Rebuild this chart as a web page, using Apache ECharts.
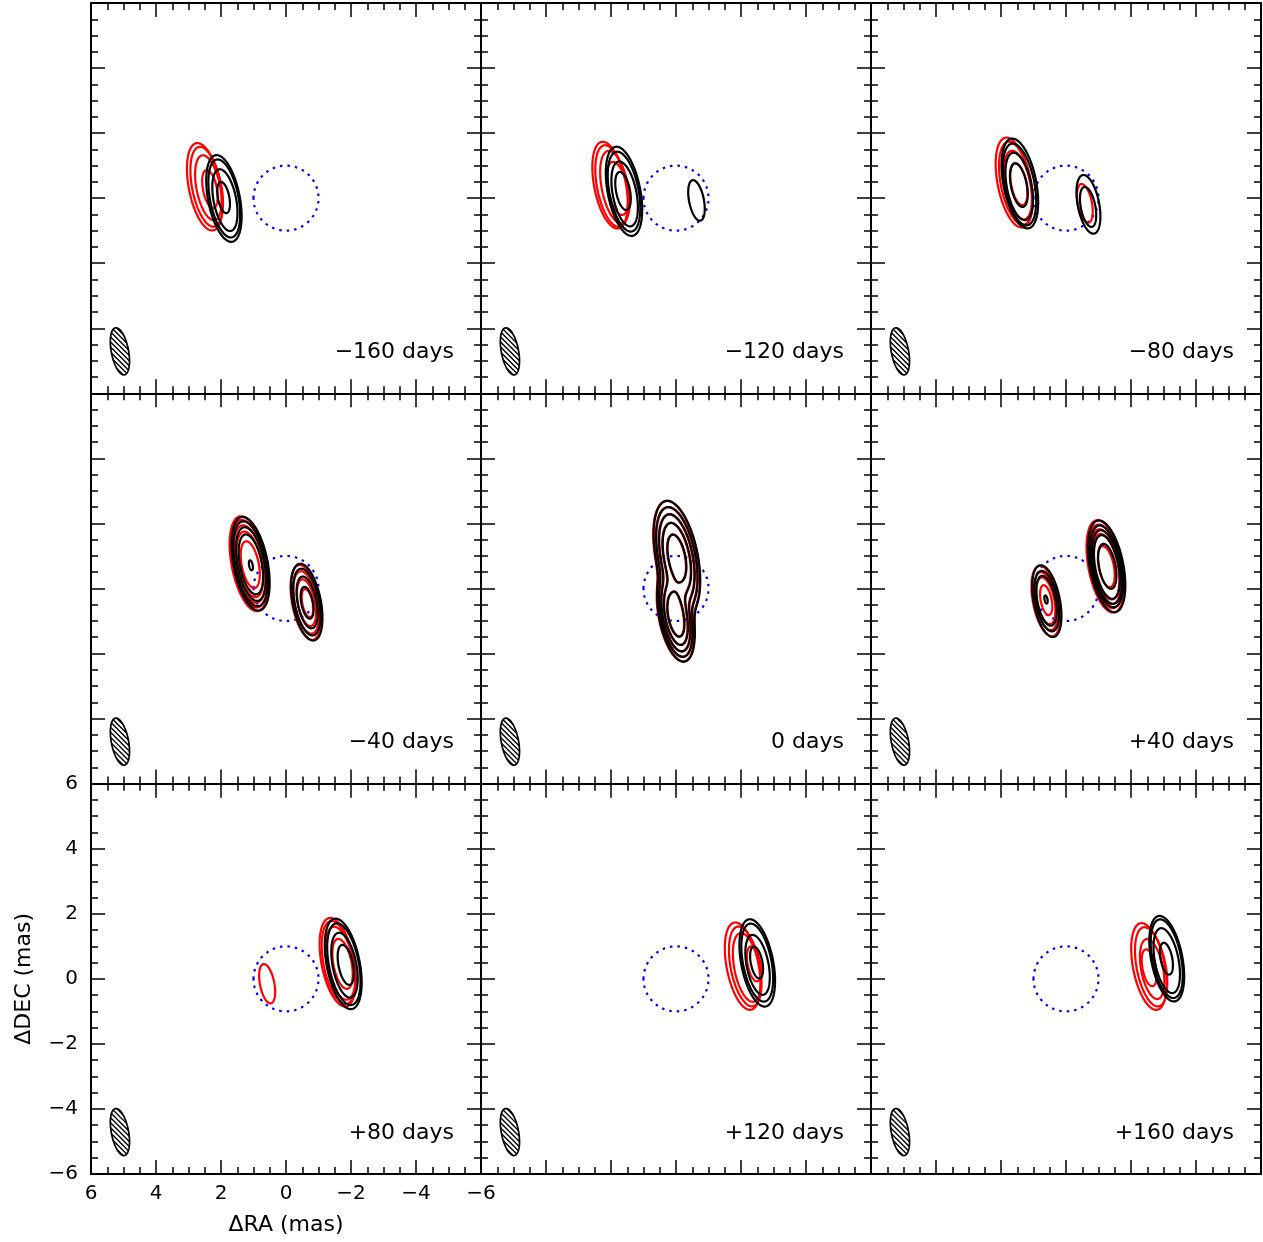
<!DOCTYPE html>
<html><head><meta charset="utf-8">
<script src="https://cdn.jsdelivr.net/npm/echarts@6/dist/echarts.min.js"></script>
<style>html,body{margin:0;padding:0;background:#fff}#c{width:1263px;height:1242px}</style>
</head><body><div id="c"></div>
<script>
// ---------------- data ----------------
const panelLabels = ['\u2212160 days','\u2212120 days','\u221280 days','\u221240 days','0 days','+40 days','+80 days','+120 days','+160 days'];
const axisTicks = [-6, -4, -2, 0, 2, 4, 6];
// contour rows: [ΔRA (mas), ΔDEC (mas), semi-major axis (mas)]
const red_m160 = [[2.50,0.35,1.40],[2.44,0.35,1.28],[2.39,0.32,1.04],[2.34,0.28,0.61]];
const black_m160 = [[1.91,-0.01,1.39],[1.90,-0.01,1.25],[1.88,-0.06,0.99],[1.92,0.02,0.50]];
const red_m120 = [[2.03,0.40,1.39],[1.97,0.37,1.31],[1.88,0.34,1.16],[1.80,0.30,0.85]];
const black_m120 = [[1.60,0.21,1.43],[1.60,0.20,1.28],[1.58,0.13,1.04],[1.63,0.22,0.61],[-0.63,-0.07,0.65]];
const red_m80 = [[1.60,0.48,1.44],[1.54,0.46,1.33],[1.48,0.40,1.10],[1.45,0.43,0.67],[-0.58,-0.16,0.62]];
const black_m80 = [[1.42,0.45,1.44],[1.43,0.42,1.31],[1.44,0.36,1.08],[1.45,0.40,0.70],[-0.69,-0.19,0.94],[-0.68,-0.27,0.64]];
const red_m40 = [[1.14,0.76,1.52],[1.13,0.76,1.40],[1.12,0.75,1.24],[1.11,0.74,1.05],[1.10,0.73,0.75],[-0.61,-0.43,1.20],[-0.62,-0.43,1.00],[-0.63,-0.44,0.75],[-0.66,-0.45,0.45]];
const black_m40 = [[1.09,0.76,1.50],[1.09,0.76,1.36],[1.08,0.75,1.18],[1.08,0.74,0.96],[1.08,0.71,0.16],[-0.64,-0.42,1.23],[-0.64,-0.42,1.07],[-0.65,-0.43,0.83],[-0.65,-0.44,0.51]];
const red_p40 = [[0.62,-0.39,1.13],[0.62,-0.39,0.93],[0.62,-0.38,0.75],[0.61,-0.36,0.48],[-1.21,0.68,1.48],[-1.22,0.68,1.34],[-1.22,0.67,1.20],[-1.23,0.67,1.05],[-1.24,0.67,0.66]];
const black_p40 = [[0.59,-0.39,1.15],[0.59,-0.39,0.97],[0.60,-0.38,0.80],[0.615,-0.34,0.13],[-1.25,0.68,1.47],[-1.25,0.68,1.31],[-1.26,0.66,1.18],[-1.26,0.66,1.02],[-1.27,0.68,0.72]];
const red_p80 = [[0.58,-0.15,0.63],[-1.59,0.51,1.42],[-1.62,0.50,1.33],[-1.67,0.48,1.17],[-1.74,0.46,0.80]];
const black_p80 = [[-1.76,0.46,1.45],[-1.78,0.45,1.31],[-1.80,0.42,1.04],[-1.84,0.43,0.64]];
const red_p120 = [[-2.05,0.39,1.40],[-2.13,0.38,1.28],[-2.18,0.35,1.10],[-2.40,0.46,0.56]];
const black_p120 = [[-2.50,0.49,1.40],[-2.50,0.50,1.25],[-2.51,0.43,0.96],[-2.48,0.50,0.51]];
const red_p160 = [[-2.55,0.38,1.39],[-2.62,0.37,1.27],[-2.65,0.30,0.96],[-2.56,0.34,0.59]];
const black_p160 = [[-3.10,0.62,1.37],[-3.10,0.62,1.26],[-3.10,0.56,1.04],[-3.09,0.62,0.51]];
// 0 days: blended images, rows [ΔRA, ΔDEC, peak, size scale]
const black_0_images = [[-0.03,0.95,27.6,1.25],[0.00,-0.85,32.4,0.98]];
const red_0_images = [[-0.015,0.95,27.6,1.25],[0.015,-0.85,32.4,0.98]];
const levels_0 = [1,2,4,8,16];
const beamSigma = [0.55, 0.20];        // mas, major/minor
const beamPA = 11;                     // deg, east of north
const contourAxisRatio = 0.36;         // minor/major of contour ellipses
const contourScale = 0.975;
const beam = [[5.11,-4.71,0.735,0.265]]; // [ΔRA, ΔDEC, semi-major, semi-minor]
const ringRadius = 1;                  // mas
const labelPos = [[-5.17,-4.74]];

const redSets = [red_m160, red_m120, red_m80, red_m40, null, red_p40, red_p80, red_p120, red_p160];
const blackSets = [black_m160, black_m120, black_m80, black_m40, null, black_p40, black_p80, black_p120, black_p160];

// ---------------- helpers ----------------
const TH = beamPA * Math.PI / 180;
const E1 = [Math.sin(TH), Math.cos(TH)];   // major axis (data coords, x = RA)
const E2 = [Math.cos(TH), -Math.sin(TH)];
function fmt(v){ return v < 0 ? '\u2212' + (-v) : '' + v; }

function ellipseRender(color){
  return function(params, api){
    const cx = api.value(0), cy = api.value(1), a = api.value(2) * contourScale, b = a * contourAxisRatio;
    const pts = [];
    for (let k = 0; k < 120; k++){
      const t = k / 120 * 2 * Math.PI, ca = a * Math.cos(t), sb = b * Math.sin(t);
      pts.push(api.coord([cx + ca * E1[0] + sb * E2[0], cy + ca * E1[1] + sb * E2[1]]));
    }
    return {type:'polygon', shape:{points:pts}, style:{fill:'none', stroke:color, lineWidth:2.2, lineJoin:'round'}};
  };
}
function ringRender(params, api){
  const pts = [];
  for (let k = 0; k <= 180; k++){
    const t = k / 180 * 2 * Math.PI;
    pts.push(api.coord([api.value(0) + ringRadius * Math.cos(t), api.value(1) + ringRadius * Math.sin(t)]));
  }
  return {type:'polyline', shape:{points:pts}, style:{fill:'none', stroke:'#0000ff', lineWidth:2.2, lineDash:[2.5,5]}};
}
function beamRender(params, api){
  const cx = api.value(0), cy = api.value(1), a = api.value(2), b = api.value(3);
  const children = [];
  const pts = [];
  for (let k = 0; k < 120; k++){
    const t = k / 120 * 2 * Math.PI, ca = a * Math.cos(t), sb = b * Math.sin(t);
    pts.push(api.coord([cx + ca * E1[0] + sb * E2[0], cy + ca * E1[1] + sb * E2[1]]));
  }
  children.push({type:'polygon', shape:{points:pts}, style:{fill:'#fff', stroke:'#000', lineWidth:1.7}});
  const n = [Math.SQRT1_2, -Math.SQRT1_2], u = [Math.SQRT1_2, Math.SQRT1_2];
  const a1 = n[0]*E1[0]+n[1]*E1[1], b1 = u[0]*E1[0]+u[1]*E1[1];
  const a2 = n[0]*E2[0]+n[1]*E2[1], b2 = u[0]*E2[0]+u[1]*E2[1];
  const A = b1*b1/(a*a) + b2*b2/(b*b);
  const h = 0.11;
  for (let d = -0.66; d <= 0.66; d += h){
    const B = 2*d*(a1*b1/(a*a) + a2*b2/(b*b));
    const C = d*d*(a1*a1/(a*a) + a2*a2/(b*b)) - 1;
    const disc = B*B - 4*A*C;
    if (disc <= 0) continue;
    const s1 = (-B - Math.sqrt(disc)) / (2*A), s2 = (-B + Math.sqrt(disc)) / (2*A);
    const p1 = api.coord([cx + d*n[0] + s1*u[0], cy + d*n[1] + s1*u[1]]);
    const p2 = api.coord([cx + d*n[0] + s2*u[0], cy + d*n[1] + s2*u[1]]);
    children.push({type:'line', shape:{x1:p1[0], y1:p1[1], x2:p2[0], y2:p2[1]}, style:{stroke:'#000', lineWidth:1.4}});
  }
  return {type:'group', children};
}
function labelRender(text){
  return function(params, api){
    const p = api.coord([api.value(0), api.value(1)]);
    return {type:'text', x:p[0], y:p[1], style:{text:text, fill:'#000', font:'22px "DejaVu Sans"', align:'right', verticalAlign:'middle', textAlign:'right', textVerticalAlign:'middle'}};
  };
}
function fieldFn(images){
  return function(x, y){
    let f = 0;
    for (const im of images){
      const dx = x - im[0], dy = y - im[1];
      const uu = (dx*E1[0] + dy*E1[1]) / (beamSigma[0]*im[3]);
      const vv = (dx*E2[0] + dy*E2[1]) / (beamSigma[1]*im[3]);
      f += im[2] * Math.exp(-0.5*(uu*uu + vv*vv));
    }
    return f;
  };
}
function contourRender(images, color){
  const f = fieldFn(images);
  const x0 = -2.4, y0 = -3.6, h = 0.015, nx = 320, ny = 480;
  const grid = new Float64Array((nx+1)*(ny+1));
  for (let j = 0; j <= ny; j++) for (let i = 0; i <= nx; i++) grid[j*(nx+1)+i] = f(x0+i*h, y0+j*h);
  return function(params, api){
    const L = levels_0[api.value(2)];
    let path = '';
    const P = (q) => { const c = api.coord(q); return c[0].toFixed(2) + ' ' + c[1].toFixed(2); };
    for (let j = 0; j < ny; j++){
      for (let i = 0; i < nx; i++){
        const x = x0 + i*h, y = y0 + j*h;
        const c = [[x, y, grid[j*(nx+1)+i]], [x+h, y, grid[j*(nx+1)+i+1]], [x+h, y+h, grid[(j+1)*(nx+1)+i+1]], [x, y+h, grid[(j+1)*(nx+1)+i]]];
        const pts = [];
        for (let e = 0; e < 4; e++){
          const p = c[e], q = c[(e+1)%4];
          if ((p[2] > L) !== (q[2] > L)){
            const t = (L - p[2]) / (q[2] - p[2]);
            pts.push([p[0] + t*(q[0]-p[0]), p[1] + t*(q[1]-p[1])]);
          }
        }
        if (pts.length === 2) path += 'M' + P(pts[0]) + 'L' + P(pts[1]);
        else if (pts.length === 4){
          const cv = (c[0][2]+c[1][2]+c[2][2]+c[3][2]) / 4;
          if ((cv > L) === (c[0][2] > L)) { path += 'M' + P(pts[0]) + 'L' + P(pts[1]) + 'M' + P(pts[2]) + 'L' + P(pts[3]); }
          else { path += 'M' + P(pts[3]) + 'L' + P(pts[0]) + 'M' + P(pts[1]) + 'L' + P(pts[2]); }
        }
      }
    }
    return {type:'path', shape:{pathData: path}, style:{fill:'none', stroke:color, lineWidth:2.2, lineCap:'round', lineJoin:'round'}};
  };
}

// ---------------- layout ----------------
const colLeft = [91, 481, 871];
const rowTop = [3, 393.3, 783.7];
const W = 390, H = 390.3;
const grids = [], xAxes = [], yAxes = [], series = [];
const font = '"DejaVu Sans"';

for (let i = 0; i < 9; i++){
  const r = Math.floor(i/3), c = i % 3;
  grids.push({left: colLeft[c], top: rowTop[r], width: W, height: H, outerBoundsMode: 'none'});
  const showLab = (i === 6);
  const baseTick = {show:true, inside:true, length:14, lineStyle:{color:'#000', width:1.5}};
  const baseMinor = {show:true, splitNumber:4, length:7, lineStyle:{color:'#000', width:1.5}};
  const baseLine = {show:true, onZero:false, lineStyle:{color:'#000', width:2}};
  ['bottom','top'].forEach(pos => {
    const lab = showLab && pos === 'bottom';
    xAxes.push({gridIndex:i, type:'value', min:-6, max:6, interval:2, inverse:true, position:pos,
      axisLine:baseLine, axisTick:baseTick, minorTick:baseMinor, splitLine:{show:false}, minorSplitLine:{show:false},
      axisLabel:{show:lab, margin:10, color:'#000', fontFamily:font, fontSize:20, formatter:fmt, showMinLabel:true, showMaxLabel:true},
      name: lab ? '\u0394RA (mas)' : '', nameLocation:'middle', nameGap:40,
      nameTextStyle:{color:'#000', fontFamily:font, fontSize:22}});
  });
  ['left','right'].forEach(pos => {
    const lab = showLab && pos === 'left';
    yAxes.push({gridIndex:i, type:'value', min:-6, max:6, interval:2, position:pos,
      axisLine:baseLine, axisTick:baseTick, minorTick:baseMinor, splitLine:{show:false}, minorSplitLine:{show:false},
      axisLabel:{show:lab, margin:13, color:'#000', fontFamily:font, fontSize:20, formatter:fmt, showMinLabel:true, showMaxLabel:true},
      name: lab ? '\u0394DEC (mas)' : '', nameLocation:'middle', nameGap:56, nameRotate:90,
      nameTextStyle:{color:'#000', fontFamily:font, fontSize:22}});
  });
  const xi = 2*i, yi = 2*i;
  const common = {type:'custom', coordinateSystem:'cartesian2d', xAxisIndex:xi, yAxisIndex:yi, clip:false, silent:true, animation:false, encode:{x:0, y:1}};
  series.push(Object.assign({}, common, {data:[[0,0]], renderItem:ringRender}));
  if (i === 4){
    series.push(Object.assign({}, common, {data:levels_0.map((l,k)=>[0,0,k]), renderItem:contourRender(red_0_images, '#ff0000')}));
    series.push(Object.assign({}, common, {data:levels_0.map((l,k)=>[0,0,k]), renderItem:contourRender(black_0_images, '#000000')}));
  } else {
    series.push(Object.assign({}, common, {data:redSets[i], renderItem:ellipseRender('#ff0000')}));
    series.push(Object.assign({}, common, {data:blackSets[i], renderItem:ellipseRender('#000000')}));
  }
  series.push(Object.assign({}, common, {data:beam, renderItem:beamRender}));
  series.push(Object.assign({}, common, {data:labelPos, renderItem:labelRender(panelLabels[i])}));
}

const chart = echarts.init(document.getElementById('c'), null, {renderer:'canvas'});
chart.setOption({animation:false, backgroundColor:'#fff', grid:grids, xAxis:xAxes, yAxis:yAxes, series:series});
</script></body></html>
